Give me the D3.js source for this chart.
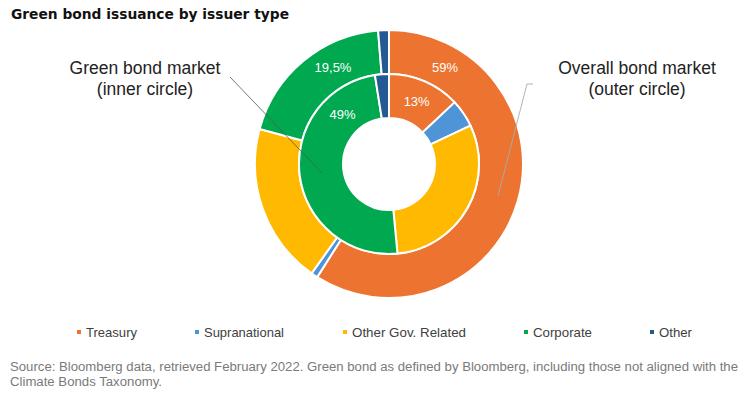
<!DOCTYPE html>
<html>
<head>
<meta charset="utf-8">
<script src="https://cdn.jsdelivr.net/npm/d3@7"></script>
<style>
  body { margin: 0; background: #fff; }
  svg { display: block; font-family: Arial, "Liberation Sans", sans-serif; }
</style>
</head>
<body>
<div id="chart"></div>
<script>
// data
const categories = ['Treasury', 'Supranational', 'Other Gov. Related', 'Corporate', 'Other'];
const colors = ['#ec7430', '#5094d8', '#ffb900', '#00a94f', '#245a93'];
const overallMarket = [59, 0.8, 19.4, 19.5, 1.3];   // outer circle
const greenMarket = [13, 5, 30.5, 49, 2.5];         // inner circle
// labels shown on the rings: ring, category index, text, angle (deg from 12 o'clock)
const ringLabels = [
    { ring: 'outer', i: 0, text: '59%', angle: 30 },
    { ring: 'outer', i: 3, text: '19,5%', angle: 330 },
    { ring: 'inner', i: 0, text: '13%', angle: 24 },
    { ring: 'inner', i: 3, text: '49%', angle: 317 }
];

const width = 750, height = 394;
const cx = 389, cy = 164;
const radii = {
    outer: { r0: 90, r1: 134 },
    inner: { r0: 46, r1: 90 }
};

const svg = d3.select('#chart').append('svg')
    .attr('width', width)
    .attr('height', height);

svg.append('text')
    .attr('x', 11).attr('y', 19)
    .attr('font-family', '"DejaVu Sans", sans-serif')
    .attr('font-weight', 'bold')
    .attr('font-size', 14.5)
    .attr('fill', '#111')
    .attr('textLength', 278)
    .attr('lengthAdjust', 'spacingAndGlyphs')
    .text('Green bond issuance by issuer type');

const pie = d3.pie().sort(null).value(d => d);
const g = svg.append('g').attr('transform', `translate(${cx},${cy})`);

function drawRing(values, ring) {
    const arc = d3.arc().innerRadius(radii[ring].r0).outerRadius(radii[ring].r1);
    g.append('g')
        .selectAll('path')
        .data(pie(values))
        .join('path')
        .attr('d', arc)
        .attr('fill', (d, i) => colors[i])
        .attr('stroke', '#fff')
        .attr('stroke-width', 2);
}

drawRing(overallMarket, 'outer');
drawRing(greenMarket, 'inner');

// leader lines to the ring annotations
svg.append('polyline')
    .attr('points', '230,77 322,173')
    .attr('fill', 'none')
    .attr('stroke', '#555')
    .attr('stroke-width', 0.8);
svg.append('polyline')
    .attr('points', '533,84 527,84 498,196')
    .attr('fill', 'none')
    .attr('stroke', '#aaa')
    .attr('stroke-width', 0.9);

ringLabels.forEach(l => {
    const r = (radii[l.ring].r0 + radii[l.ring].r1) / 2;
    const a = l.angle * Math.PI / 180;
    g.append('text')
        .attr('x', r * Math.sin(a))
        .attr('y', -r * Math.cos(a))
        .attr('dy', '0.35em')
        .attr('text-anchor', 'middle')
        .attr('font-size', 13)
        .attr('fill', '#fff')
        .text(l.text);
});

function annotation(x, lines) {
    const t = svg.append('text')
        .attr('text-anchor', 'middle')
        .attr('font-size', 17.5)
        .attr('fill', '#222');
    lines.forEach((s, k) => {
        t.append('tspan').attr('x', x).attr('y', 74 + k * 21).text(s);
    });
}
annotation(145, ['Green bond market', '(inner circle)']);
annotation(637, ['Overall bond market', '(outer circle)']);

// legend (narrow font in the original, so widths are fitted)
const legendX = [77, 195, 343, 524, 650];
const legendW = [51, 80, 114, 59, 33];
const legend = svg.append('g');
categories.forEach((c, i) => {
    legend.append('rect')
        .attr('x', legendX[i]).attr('y', 330)
        .attr('width', 4).attr('height', 4)
        .attr('fill', colors[i]);
    legend.append('text')
        .attr('x', legendX[i] + 9).attr('y', 336.5)
        .attr('font-size', 13.5)
        .attr('fill', '#404040')
        .attr('textLength', legendW[i])
        .attr('lengthAdjust', 'spacingAndGlyphs')
        .text(c);
});

// source note
svg.append('text')
    .attr('x', 10).attr('y', 371)
    .attr('font-size', 12)
    .attr('fill', '#7a7a7a')
    .attr('textLength', 728)
    .attr('lengthAdjust', 'spacingAndGlyphs')
    .text('Source: Bloomberg data, retrieved February 2022. Green bond as defined by Bloomberg, including those not aligned with the');
svg.append('text')
    .attr('x', 10).attr('y', 386)
    .attr('font-size', 12)
    .attr('fill', '#7a7a7a')
    .attr('textLength', 152)
    .attr('lengthAdjust', 'spacingAndGlyphs')
    .text('Climate Bonds Taxonomy.');
</script>
</body>
</html>
